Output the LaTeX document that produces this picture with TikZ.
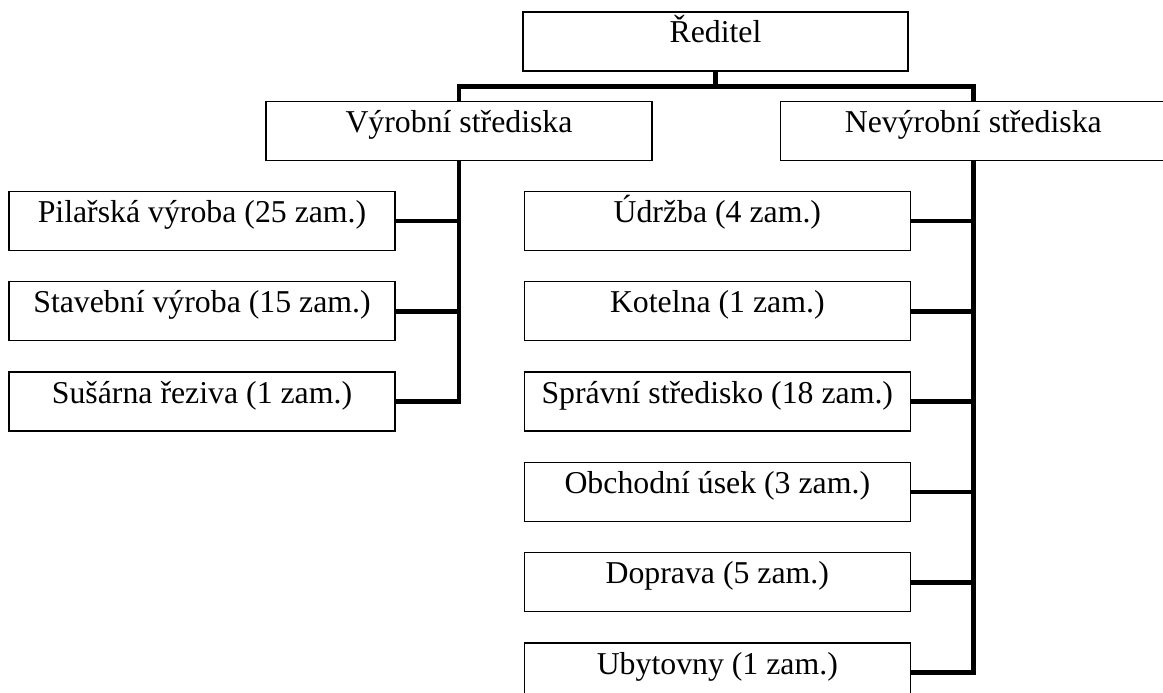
\documentclass[tikz,border=0pt]{standalone}
\usepackage{fontspec}
\setmainfont{Liberation Serif}
\usepackage{tikz}
\usetikzlibrary{positioning}
\tikzset{
	orgbox/.style={rectangle, draw=black, line width=1.3pt, fill=white, minimum width=386pt, text height=31pt, text depth=28pt, inner sep=0pt, align=center},
	spoj/.style  ={line width=4.8pt, line join=miter},
}

\begin{document}
\begin{tikzpicture}[x=1pt, y=-1pt, font=\fontsize{31.8pt}{38pt}\selectfont, node distance=30pt]
	\useasboundingbox (0,0) rectangle (1163,693);
	% top level
	\node[orgbox, minimum width=385pt] (dir) at (715.5,41.5) {Ředitel};
	\node[orgbox] (vyr) at (459,131) {Výrobní střediska};
	\node[orgbox, right=127pt of vyr] (nevyr) {Nevýrobní střediska};
	% production units
	\node[orgbox] (pila) at (202,221) {Pilařská výroba (25 zam.)};
	\node[orgbox, below=of pila] (stav) {Stavební výroba (15 zam.)};
	\node[orgbox, below=of stav] (sus) {Sušárna řeziva (1 zam.)};
	% non-production units
	\node[orgbox, right=128pt of pila] (udrz) {Údržba (4 zam.)};
	\node[orgbox, below=of udrz] (kot) {Kotelna (1 zam.)};
	\node[orgbox, below=of kot] (sprav) {Správní středisko (18 zam.)};
	\node[orgbox, below=of sprav] (obch) {Obchodní úsek (3 zam.)};
	\node[orgbox, below=of obch] (dopr) {Doprava (5 zam.)};
	\node[orgbox, below=of dopr] (ubyt) {Ubytovny (1 zam.)};
	% connectors
	\draw[spoj] (dir.south) -- ++(0,15) coordinate (rozc);
	\draw[spoj] (vyr.north) |- (rozc) -| (nevyr.north);
	\draw[spoj] (vyr.south) |- (sus.east);
	\draw[spoj] (pila.east) -- (pila.east -| vyr.south);
	\draw[spoj] (stav.east) -- (stav.east -| vyr.south);
	\draw[spoj] (nevyr.south) |- (ubyt.east);
	\draw[spoj] (udrz.east) -- (udrz.east -| nevyr.south);
	\draw[spoj] (kot.east) -- (kot.east -| nevyr.south);
	\draw[spoj] (sprav.east) -- (sprav.east -| nevyr.south);
	\draw[spoj] (obch.east) -- (obch.east -| nevyr.south);
	\draw[spoj] (dopr.east) -- (dopr.east -| nevyr.south);
\end{tikzpicture}
\end{document}
